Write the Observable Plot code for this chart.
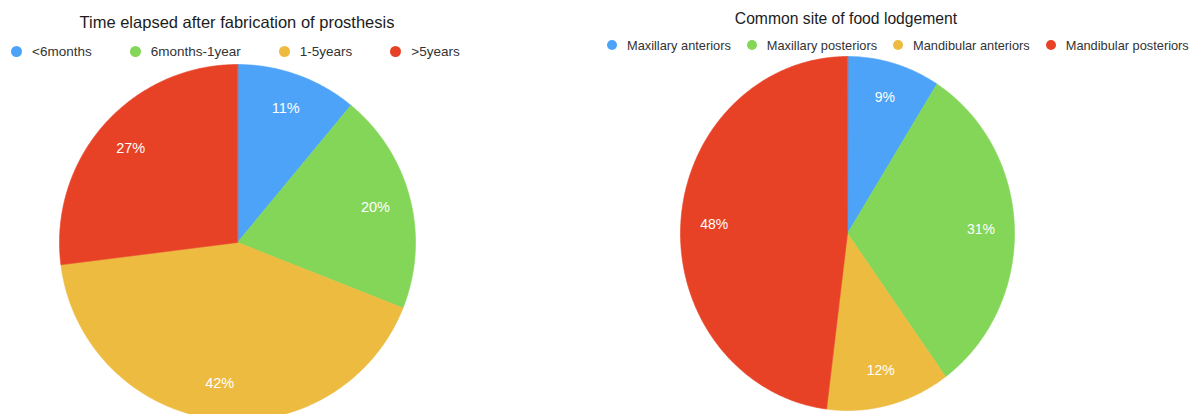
<!DOCTYPE html>
<html>
<head>
<meta charset="utf-8">
<script src="https://cdn.jsdelivr.net/npm/d3@7"></script>
<script src="https://cdn.jsdelivr.net/npm/@observablehq/plot@0.6"></script>
<style>
  html, body { margin: 0; padding: 0; background: #fff; }
  #root { position: relative; width: 1195px; height: 414px; overflow: hidden; background: #fff;
          font-family: "Liberation Sans", Arial, Helvetica, sans-serif; }
  .title { position: absolute; text-align: center; color: #1c1c1c; line-height: 1; white-space: nowrap; }
  .legend { position: absolute; display: flex; align-items: center; height: 16px; color: #333; white-space: nowrap; }
  .item { display: flex; align-items: center; }
  .dot { border-radius: 50%; display: inline-block; }
  .pie { position: absolute; }
</style>
</head>
<body>
<div id="root"></div>
<script>
// ---- data ----
const leftTitle = "Time elapsed after fabrication of prosthesis";
const leftCategories = ["<6months", "6months-1year", "1-5years", ">5years"];
const leftValues = [11, 20, 42, 27];

const rightTitle = "Common site of food lodgement";
const rightCategories = ["Maxillary anteriors", "Maxillary posteriors", "Mandibular anteriors", "Mandibular posteriors"];
const rightValues = [9, 31, 12, 48];

const palette = ["#4ca3f8", "#83d658", "#edbb40", "#e84226"];
const FONT = '"Liberation Sans", Arial, Helvetica, sans-serif';

const root = document.getElementById("root");

function slicesOf(cats, vals) {
  const total = d3.sum(vals);
  let acc = 0;
  return cats.map((c, i) => {
    const a0 = acc / total * 2 * Math.PI;
    acc += vals[i];
    const a1 = acc / total * 2 * Math.PI;
    return {cat: c, value: vals[i], a0, a1, mid: (a0 + a1) / 2};
  });
}

function polygonPoints(slices) {
  const pts = [];
  for (const s of slices) {
    pts.push({cat: s.cat, x: 0, y: 0});
    const n = Math.max(2, Math.ceil((s.a1 - s.a0) / (Math.PI / 240)));
    for (let k = 0; k <= n; k++) {
      const a = s.a0 + (s.a1 - s.a0) * k / n;
      pts.push({cat: s.cat, x: Math.sin(a), y: Math.cos(a)});
    }
  }
  return pts;
}

function drawPie(cats, vals, {left, top, width, height, labelSize}) {
  const slices = slicesOf(cats, vals);
  const pts = polygonPoints(slices);
  const chart = Plot.plot({
    width, height,
    margin: 0,
    x: {domain: [-1, 1], axis: null},
    y: {domain: [-1, 1], axis: null},
    color: {domain: cats, range: palette},
    style: {background: "transparent", overflow: "visible"},
    marks: [
      Plot.line(pts, {x: "x", y: "y", z: "cat", fill: "cat", stroke: "cat", strokeWidth: 0.6, curve: "linear-closed"}),
      Plot.text(slices, {
        x: d => 0.8 * Math.sin(d.mid),
        y: d => 0.8 * Math.cos(d.mid),
        text: d => d.value + "%",
        fill: "white",
        fontSize: labelSize,
        fontFamily: FONT
      })
    ]
  });
  chart.classList.add("pie");
  chart.style.left = left + "px";
  chart.style.top = top + "px";
  root.appendChild(chart);
}

function drawTitle(text, {center, top, size}) {
  const d = document.createElement("div");
  d.className = "title";
  d.textContent = text;
  d.style.left = (center - 300) + "px";
  d.style.width = "600px";
  d.style.top = top + "px";
  d.style.fontSize = size + "px";
  root.appendChild(d);
}

function drawLegend(cats, {left, top, size, dot, gap, itemGap}) {
  const lg = document.createElement("div");
  lg.className = "legend";
  lg.style.left = left + "px";
  lg.style.top = top + "px";
  lg.style.fontSize = size + "px";
  lg.style.gap = itemGap + "px";
  cats.forEach((c, i) => {
    const it = document.createElement("div");
    it.className = "item";
    const sw = document.createElement("span");
    sw.className = "dot";
    sw.style.width = dot + "px";
    sw.style.height = dot + "px";
    sw.style.background = palette[i];
    sw.style.marginRight = gap + "px";
    const tx = document.createElement("span");
    tx.textContent = c;
    it.appendChild(sw);
    it.appendChild(tx);
    lg.appendChild(it);
  });
  root.appendChild(lg);
}

// left panel
drawTitle(leftTitle, {center: 237, top: 14, size: 16.5});
drawLegend(leftCategories, {left: 11, top: 43, size: 13.5, dot: 11, gap: 10, itemGap: 38});
drawPie(leftCategories, leftValues, {left: 59, top: 64, width: 356, height: 356, labelSize: 14.5});

// right panel
drawTitle(rightTitle, {center: 846, top: 11, size: 15.7});
drawLegend(rightCategories, {left: 607, top: 37, size: 12.8, dot: 10, gap: 10, itemGap: 16});
drawPie(rightCategories, rightValues, {left: 680, top: 56, width: 334, height: 354, labelSize: 14});
</script>
</body>
</html>
